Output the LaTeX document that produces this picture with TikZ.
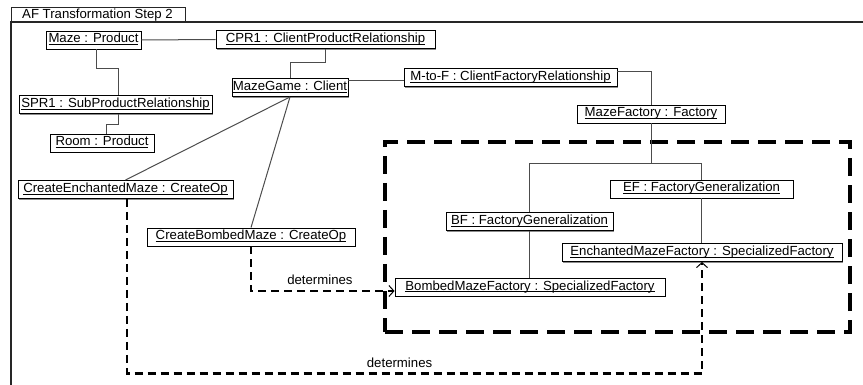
\documentclass[tikz,border=0pt]{standalone}
\usepackage{fontspec}
\setmainfont{Liberation Sans}
\usetikzlibrary{arrows.meta,shadows}
\newsavebox\ulbox
\newcommand\ulined[1]{\sbox\ulbox{#1}\rlap{\rule[-2.3pt]{\wd\ulbox}{0.9pt}}\usebox\ulbox}

\begin{document}
\begin{tikzpicture}[x=1pt,y=-1pt,
  txt/.style={font=\fontsize{13.2}{15}\selectfont},
  obj/.style={txt, draw=black, line width=0.9pt, fill=white, minimum height=18pt,
    inner sep=0pt, text height=9.5pt, text depth=3.5pt,
    drop shadow={shadow xshift=1.3pt, shadow yshift=-1.3pt, fill=black!45, opacity=1}},
  link/.style={draw=black!70, line width=1pt},
  dep/.style={draw=black, line width=2.2pt, dash pattern=on 8pt off 5pt,
    -{Straight Barb[length=5pt, width=11pt, line width=1pt]}},
  lbl/.style={txt, inner sep=0pt},
  groupbox/.style={draw=black, line width=3.2pt, dash pattern=on 18pt off 9pt, inner sep=0pt}
]
\useasboundingbox (0,0) rectangle (863,385);
\clip (0,0) rectangle (863,385);

% diagram frame with its name tab
\draw[line width=1.3pt, black!85] (11,400) -- (11,22) -- (880,22);
\draw[line width=1pt, black!85] (11,22) -- (11,8) -- (185,8) -- (185,22);
\node[lbl, anchor=base west] (title) at (22,18.5) {AF Transformation Step 2};

% grouping of the factory hierarchy
\node[groupbox, minimum width=465pt, minimum height=190pt] (factorygroup) at (617.5,237) {};

% objects
\node[obj, minimum width=95pt]  (maze)        at (93.5,40)   {\ulined{Maze : Product}};
\node[obj, minimum width=219pt] (cpr)         at (325.5,39.5) {\ulined{CPR1 : ClientProductRelationship}};
\node[obj, minimum width=116pt] (mazegame)    at (290,87.5)  {\ulined{MazeGame : Client}};
\node[obj, minimum width=213pt] (mtof)        at (510.5,77.5) {\ulined{M-to-F : ClientFactoryRelationship}};
\node[obj, minimum width=148pt] (mazefactory) at (651,114)   {\ulined{MazeFactory : Factory}};
\node[obj, minimum width=183pt] (ef)          at (701.5,189) {\ulined{EF : FactoryGeneralization}};
\node[obj, minimum width=167pt] (bf)          at (529.5,221.5) {\ulined{BF : FactoryGeneralization}};
\node[obj, minimum width=280pt] (emf)         at (702,252.5) {\ulined{EnchantedMazeFactory : SpecializedFactory}};
\node[obj, minimum width=270pt] (bmf)         at (530,287)   {\ulined{BombedMazeFactory : SpecializedFactory}};
\node[obj, minimum width=193pt] (spr)         at (115.5,104.5) {\ulined{SPR1 : SubProductRelationship}};
\node[obj, minimum width=104pt] (room)        at (102,143)   {\ulined{Room : Product}};
\node[obj, minimum width=215pt] (cem)         at (125.5,189.5) {\ulined{CreateEnchantedMaze : CreateOp}};
\node[obj, minimum width=208pt] (cbm)         at (251,237)   {\ulined{CreateBombedMaze : CreateOp}};

% links
\draw[link] (maze.east) -- (cpr.west);
\draw[link] ([xshift=2.5pt]maze.south) -- ++(0,19) -| ([xshift=2.5pt]spr.north);
\draw[link] ([xshift=2.5pt]spr.south) -- ++(0,11) -| ([xshift=4pt]room.north);
\draw[link] (cpr.south) -- ++(0,14) -| (mazegame.north);
\coordinate (gl) at ([yshift=6.5pt]mazegame.east);
\draw[link] (gl) -- (gl -| mtof.west);
\draw[link] ([yshift=5.5pt]mtof.east) -| (mazefactory.north);
\draw[link] (mazefactory.south) -- ++(0,40) coordinate (fork);
\draw[link] (bf.north) |- (fork) -| (ef.north);
\draw[link] (ef.south) -- (ef.south |- emf.north);
\draw[link] (bf.south) -- (bf.south |- bmf.north);
\draw[link] (mazegame.south) -- (cem.north);
\draw[link] (mazegame.south) -- (cbm.north);

% dependencies
\draw[dep] (cbm.south) |- node[lbl, above=5pt, pos=0.74] {determines} ([yshift=-4pt]bmf.west);
\draw[dep] ([xshift=1.5pt]cem.south) -- ++(0,174.5) -| node[lbl, above=5pt, pos=0.237] {determines} (emf.south);
\end{tikzpicture}
\end{document}
